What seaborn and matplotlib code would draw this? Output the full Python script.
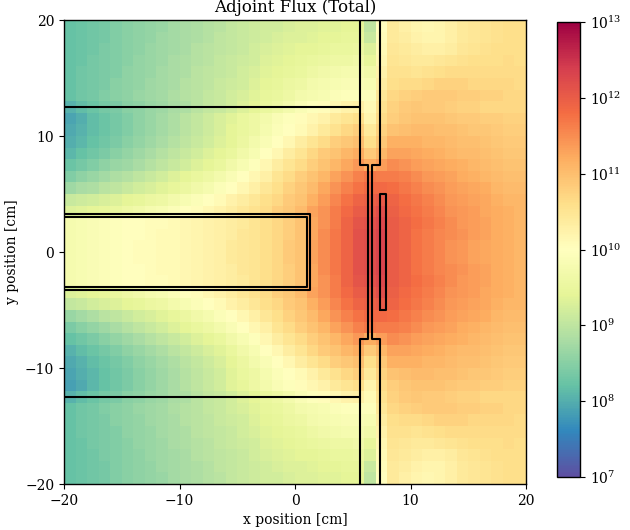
import numpy as np
import matplotlib
matplotlib.use("Agg")
import matplotlib.pyplot as plt
from matplotlib.colors import LogNorm
from matplotlib.transforms import Affine2D
import seaborn as sns

# log10 of the adjoint flux, one row per 1 cm band (y = 19.5 at top ... -19.5 at bottom),
# 40 columns from x = -19.5 to 19.5
log_flux = [
    [8.2, 8.25, 8.3, 8.35, 8.45, 8.5, 8.55, 8.6, 8.65, 8.75, 8.8, 8.85, 8.9, 8.95, 9.05, 9.1, 9.15, 9.2, 9.2, 9.25, 9.3, 9.3, 9.35, 9.35, 9.4, 9.4, 9.0, 10.0, 10.4, 10.3, 10.2, 10.15, 10.2, 10.3, 10.4, 10.45, 10.5, 10.55, 10.6, 10.6],
    [8.2, 8.25, 8.3, 8.35, 8.45, 8.5, 8.55, 8.6, 8.7, 8.75, 8.8, 8.85, 8.9, 9.0, 9.05, 9.1, 9.15, 9.2, 9.25, 9.3, 9.3, 9.35, 9.4, 9.4, 9.45, 9.45, 9.1, 10.05, 10.4, 10.35, 10.25, 10.2, 10.2, 10.3, 10.4, 10.45, 10.5, 10.55, 10.6, 10.6],
    [8.2, 8.25, 8.3, 8.4, 8.45, 8.5, 8.55, 8.65, 8.7, 8.75, 8.8, 8.9, 8.95, 9.0, 9.05, 9.1, 9.2, 9.25, 9.3, 9.35, 9.4, 9.4, 9.45, 9.5, 9.5, 9.55, 9.3, 10.1, 10.45, 10.4, 10.35, 10.3, 10.3, 10.35, 10.45, 10.5, 10.55, 10.6, 10.6, 10.6],
    [8.2, 8.25, 8.35, 8.4, 8.45, 8.5, 8.6, 8.65, 8.7, 8.8, 8.85, 8.9, 8.95, 9.05, 9.1, 9.15, 9.2, 9.3, 9.35, 9.4, 9.45, 9.5, 9.55, 9.6, 9.6, 9.65, 9.45, 10.15, 10.5, 10.45, 10.4, 10.4, 10.45, 10.5, 10.55, 10.6, 10.6, 10.6, 10.65, 10.6],
    [8.2, 8.3, 8.35, 8.4, 8.45, 8.55, 8.6, 8.65, 8.75, 8.8, 8.85, 8.95, 9.0, 9.05, 9.1, 9.2, 9.25, 9.35, 9.4, 9.45, 9.5, 9.6, 9.65, 9.7, 9.75, 9.75, 9.65, 10.25, 10.55, 10.55, 10.5, 10.55, 10.6, 10.65, 10.65, 10.65, 10.65, 10.65, 10.65, 10.65],
    [8.2, 8.3, 8.35, 8.4, 8.5, 8.55, 8.6, 8.7, 8.75, 8.8, 8.9, 8.95, 9.0, 9.1, 9.15, 9.2, 9.3, 9.4, 9.45, 9.55, 9.6, 9.7, 9.75, 9.8, 9.85, 9.85, 9.8, 10.35, 10.6, 10.65, 10.65, 10.7, 10.75, 10.75, 10.75, 10.7, 10.7, 10.7, 10.7, 10.65],
    [8.2, 8.3, 8.35, 8.45, 8.5, 8.55, 8.65, 8.7, 8.75, 8.85, 8.9, 8.95, 9.05, 9.1, 9.2, 9.25, 9.35, 9.45, 9.5, 9.6, 9.7, 9.75, 9.8, 9.9, 9.95, 9.95, 9.95, 10.45, 10.7, 10.75, 10.8, 10.85, 10.85, 10.85, 10.8, 10.8, 10.75, 10.75, 10.7, 10.7],
    [8.05, 8.15, 8.25, 8.35, 8.4, 8.5, 8.55, 8.65, 8.7, 8.8, 8.85, 8.95, 9.05, 9.1, 9.2, 9.3, 9.4, 9.5, 9.6, 9.7, 9.85, 9.95, 10.05, 10.15, 10.25, 10.3, 10.1, 10.55, 10.75, 10.85, 10.9, 10.85, 10.85, 10.8, 10.75, 10.75, 10.7, 10.7, 10.7, 10.7],
    [7.9, 8.0, 8.15, 8.25, 8.35, 8.45, 8.55, 8.65, 8.75, 8.85, 8.95, 9.05, 9.15, 9.25, 9.35, 9.5, 9.6, 9.7, 9.85, 9.95, 10.05, 10.15, 10.25, 10.4, 10.5, 10.6, 10.2, 10.65, 10.8, 10.9, 10.95, 10.95, 10.95, 10.9, 10.85, 10.85, 10.8, 10.8, 10.75, 10.75],
    [7.95, 8.05, 8.15, 8.25, 8.35, 8.45, 8.55, 8.65, 8.75, 8.85, 8.95, 9.05, 9.15, 9.25, 9.4, 9.5, 9.6, 9.75, 9.9, 10.0, 10.1, 10.25, 10.4, 10.55, 10.7, 10.8, 10.4, 10.75, 10.95, 11.0, 11.05, 11.05, 11.0, 11.0, 10.95, 10.9, 10.9, 10.85, 10.8, 10.8],
    [8.0, 8.1, 8.2, 8.3, 8.4, 8.5, 8.6, 8.7, 8.8, 8.9, 9.0, 9.1, 9.2, 9.3, 9.4, 9.55, 9.7, 9.85, 10.0, 10.15, 10.35, 10.5, 10.65, 10.8, 10.9, 11.0, 10.6, 10.9, 11.15, 11.15, 11.15, 11.1, 11.1, 11.05, 11.0, 11.0, 10.95, 10.9, 10.85, 10.85],
    [8.1, 8.2, 8.3, 8.4, 8.5, 8.6, 8.7, 8.8, 8.9, 9.0, 9.1, 9.2, 9.3, 9.4, 9.5, 9.65, 9.8, 10.0, 10.15, 10.35, 10.5, 10.7, 10.85, 10.95, 11.1, 11.2, 10.85, 11.1, 11.3, 11.3, 11.25, 11.2, 11.15, 11.1, 11.05, 11.05, 11.0, 10.95, 10.9, 10.9],
    [8.25, 8.35, 8.45, 8.55, 8.65, 8.7, 8.8, 8.9, 9.0, 9.1, 9.2, 9.3, 9.4, 9.5, 9.65, 9.8, 9.95, 10.15, 10.35, 10.5, 10.65, 10.8, 10.95, 11.1, 11.25, 11.4, 11.2, 11.35, 11.5, 11.45, 11.35, 11.3, 11.25, 11.2, 11.15, 11.1, 11.05, 11.0, 10.95, 10.95],
    [8.45, 8.55, 8.65, 8.75, 8.85, 8.9, 9.0, 9.1, 9.2, 9.3, 9.4, 9.5, 9.6, 9.7, 9.85, 10.0, 10.15, 10.3, 10.5, 10.65, 10.8, 10.95, 11.1, 11.3, 11.45, 11.6, 11.7, 11.65, 11.65, 11.6, 11.5, 11.4, 11.35, 11.3, 11.2, 11.15, 11.1, 11.05, 11.0, 11.0],
    [8.7, 8.8, 8.85, 8.95, 9.0, 9.1, 9.2, 9.25, 9.35, 9.45, 9.55, 9.65, 9.75, 9.9, 10.0, 10.15, 10.3, 10.45, 10.6, 10.75, 10.9, 11.05, 11.25, 11.45, 11.6, 11.75, 11.85, 11.85, 11.8, 11.7, 11.6, 11.5, 11.45, 11.35, 11.3, 11.25, 11.2, 11.1, 11.05, 11.05],
    [9.1, 9.15, 9.2, 9.25, 9.3, 9.4, 9.45, 9.55, 9.6, 9.7, 9.8, 9.9, 10.0, 10.1, 10.25, 10.35, 10.45, 10.6, 10.7, 10.85, 10.95, 11.15, 11.35, 11.55, 11.75, 11.9, 11.95, 12.05, 11.9, 11.8, 11.7, 11.6, 11.5, 11.4, 11.35, 11.3, 11.25, 11.15, 11.1, 11.1],
    [9.3, 9.35, 9.4, 9.45, 9.5, 9.6, 9.65, 9.75, 9.8, 9.9, 10.0, 10.05, 10.15, 10.25, 10.35, 10.45, 10.55, 10.65, 10.8, 10.9, 11.05, 11.3, 11.45, 11.65, 11.85, 12.0, 12.05, 12.2, 11.95, 11.85, 11.75, 11.65, 11.55, 11.45, 11.4, 11.35, 11.25, 11.2, 11.15, 11.1],
    [9.75, 9.8, 9.85, 9.9, 9.95, 10.0, 10.0, 10.05, 10.05, 10.1, 10.15, 10.2, 10.25, 10.3, 10.35, 10.4, 10.5, 10.6, 10.7, 10.8, 10.95, 11.25, 11.45, 11.65, 11.9, 12.1, 12.15, 12.25, 12.0, 11.9, 11.8, 11.7, 11.6, 11.5, 11.4, 11.35, 11.3, 11.2, 11.15, 11.1],
    [9.75, 9.8, 9.85, 9.9, 9.95, 10.0, 10.0, 10.05, 10.1, 10.1, 10.15, 10.2, 10.25, 10.3, 10.35, 10.45, 10.5, 10.6, 10.7, 10.8, 10.95, 11.25, 11.5, 11.7, 11.9, 12.15, 12.2, 12.3, 12.0, 11.9, 11.75, 11.65, 11.55, 11.5, 11.45, 11.35, 11.3, 11.2, 11.15, 11.1],
    [9.75, 9.8, 9.85, 9.9, 9.95, 10.0, 10.05, 10.05, 10.1, 10.1, 10.15, 10.2, 10.25, 10.3, 10.4, 10.45, 10.5, 10.6, 10.7, 10.85, 10.95, 11.3, 11.5, 11.7, 11.9, 12.15, 12.2, 12.3, 12.0, 11.9, 11.75, 11.65, 11.55, 11.45, 11.4, 11.3, 11.25, 11.2, 11.15, 11.1],
    [9.75, 9.8, 9.85, 9.9, 9.95, 10.0, 10.05, 10.05, 10.1, 10.1, 10.15, 10.2, 10.25, 10.3, 10.4, 10.45, 10.5, 10.6, 10.7, 10.85, 10.95, 11.3, 11.5, 11.7, 11.9, 12.15, 12.2, 12.3, 12.0, 11.9, 11.75, 11.65, 11.55, 11.45, 11.4, 11.3, 11.25, 11.2, 11.15, 11.1],
    [9.75, 9.8, 9.85, 9.9, 9.95, 10.0, 10.0, 10.05, 10.1, 10.1, 10.15, 10.2, 10.25, 10.3, 10.35, 10.45, 10.5, 10.6, 10.7, 10.8, 10.95, 11.25, 11.5, 11.7, 11.9, 12.15, 12.2, 12.3, 12.0, 11.9, 11.75, 11.65, 11.55, 11.5, 11.45, 11.35, 11.3, 11.2, 11.15, 11.1],
    [9.75, 9.8, 9.85, 9.9, 9.95, 10.0, 10.0, 10.05, 10.05, 10.1, 10.15, 10.2, 10.25, 10.3, 10.35, 10.4, 10.5, 10.6, 10.7, 10.8, 10.95, 11.25, 11.45, 11.65, 11.9, 12.1, 12.15, 12.25, 12.0, 11.9, 11.8, 11.7, 11.6, 11.5, 11.4, 11.35, 11.3, 11.2, 11.15, 11.1],
    [9.3, 9.35, 9.4, 9.45, 9.5, 9.6, 9.65, 9.75, 9.8, 9.9, 10.0, 10.05, 10.15, 10.25, 10.35, 10.45, 10.55, 10.65, 10.8, 10.9, 11.05, 11.3, 11.45, 11.65, 11.85, 12.0, 12.05, 12.2, 11.95, 11.85, 11.75, 11.65, 11.55, 11.45, 11.4, 11.35, 11.25, 11.2, 11.15, 11.1],
    [9.05, 9.1, 9.2, 9.25, 9.3, 9.4, 9.45, 9.55, 9.6, 9.7, 9.8, 9.9, 10.0, 10.1, 10.25, 10.35, 10.45, 10.6, 10.7, 10.85, 10.95, 11.15, 11.35, 11.55, 11.75, 11.9, 11.95, 12.05, 11.9, 11.8, 11.7, 11.6, 11.5, 11.4, 11.35, 11.3, 11.25, 11.15, 11.1, 11.1],
    [8.65, 8.75, 8.85, 8.95, 9.0, 9.1, 9.2, 9.25, 9.35, 9.45, 9.55, 9.65, 9.75, 9.9, 10.0, 10.15, 10.3, 10.45, 10.6, 10.75, 10.9, 11.05, 11.25, 11.45, 11.6, 11.75, 11.85, 11.85, 11.8, 11.7, 11.6, 11.5, 11.45, 11.35, 11.3, 11.25, 11.2, 11.1, 11.05, 11.05],
    [8.4, 8.5, 8.6, 8.7, 8.8, 8.9, 9.0, 9.1, 9.2, 9.3, 9.4, 9.5, 9.6, 9.7, 9.85, 10.0, 10.15, 10.3, 10.5, 10.65, 10.8, 10.95, 11.1, 11.3, 11.45, 11.6, 11.7, 11.65, 11.65, 11.6, 11.5, 11.4, 11.35, 11.3, 11.2, 11.15, 11.1, 11.05, 11.0, 11.0],
    [8.2, 8.3, 8.4, 8.5, 8.6, 8.7, 8.8, 8.9, 9.0, 9.1, 9.2, 9.3, 9.4, 9.5, 9.65, 9.8, 9.95, 10.15, 10.35, 10.5, 10.65, 10.8, 10.95, 11.1, 11.25, 11.4, 11.2, 11.35, 11.5, 11.45, 11.35, 11.3, 11.25, 11.2, 11.15, 11.1, 11.05, 11.0, 10.95, 10.95],
    [8.05, 8.15, 8.25, 8.35, 8.45, 8.55, 8.65, 8.75, 8.85, 8.95, 9.05, 9.15, 9.25, 9.35, 9.5, 9.65, 9.8, 10.0, 10.15, 10.35, 10.5, 10.7, 10.85, 10.95, 11.1, 11.2, 10.85, 11.1, 11.3, 11.3, 11.25, 11.2, 11.15, 11.1, 11.05, 11.05, 11.0, 10.95, 10.9, 10.9],
    [7.95, 8.05, 8.15, 8.25, 8.35, 8.45, 8.55, 8.65, 8.75, 8.85, 8.95, 9.05, 9.15, 9.25, 9.4, 9.55, 9.7, 9.85, 10.0, 10.15, 10.35, 10.5, 10.65, 10.8, 10.9, 11.0, 10.6, 10.9, 11.15, 11.15, 11.15, 11.1, 11.1, 11.05, 11.0, 11.0, 10.95, 10.9, 10.85, 10.85],
    [7.9, 8.0, 8.1, 8.2, 8.3, 8.4, 8.5, 8.6, 8.7, 8.8, 8.9, 9.0, 9.1, 9.2, 9.35, 9.5, 9.6, 9.75, 9.9, 10.0, 10.1, 10.25, 10.4, 10.55, 10.7, 10.8, 10.4, 10.75, 10.95, 11.0, 11.05, 11.05, 11.0, 11.0, 10.95, 10.9, 10.9, 10.85, 10.8, 10.8],
    [7.85, 7.95, 8.1, 8.2, 8.3, 8.4, 8.5, 8.6, 8.7, 8.8, 8.9, 9.0, 9.1, 9.2, 9.35, 9.45, 9.6, 9.7, 9.85, 9.95, 10.05, 10.15, 10.25, 10.4, 10.5, 10.6, 10.2, 10.65, 10.8, 10.9, 10.95, 10.95, 10.95, 10.9, 10.85, 10.85, 10.8, 10.8, 10.75, 10.75],
    [8.05, 8.15, 8.25, 8.35, 8.4, 8.5, 8.55, 8.65, 8.7, 8.8, 8.85, 8.95, 9.05, 9.1, 9.2, 9.3, 9.4, 9.5, 9.6, 9.7, 9.85, 9.95, 10.05, 10.15, 10.25, 10.3, 10.1, 10.55, 10.75, 10.85, 10.9, 10.85, 10.85, 10.8, 10.75, 10.75, 10.7, 10.7, 10.7, 10.7],
    [8.2, 8.3, 8.35, 8.45, 8.5, 8.55, 8.65, 8.7, 8.75, 8.85, 8.9, 8.95, 9.05, 9.1, 9.2, 9.25, 9.35, 9.45, 9.5, 9.6, 9.7, 9.75, 9.8, 9.9, 9.95, 9.95, 9.95, 10.45, 10.7, 10.75, 10.8, 10.85, 10.85, 10.85, 10.8, 10.8, 10.75, 10.75, 10.7, 10.7],
    [8.2, 8.3, 8.35, 8.4, 8.5, 8.55, 8.6, 8.7, 8.75, 8.8, 8.9, 8.95, 9.0, 9.1, 9.15, 9.2, 9.3, 9.4, 9.45, 9.55, 9.6, 9.7, 9.75, 9.8, 9.85, 9.85, 9.8, 10.35, 10.6, 10.65, 10.65, 10.7, 10.75, 10.75, 10.75, 10.7, 10.7, 10.7, 10.7, 10.65],
    [8.2, 8.3, 8.35, 8.4, 8.45, 8.55, 8.6, 8.65, 8.75, 8.8, 8.85, 8.95, 9.0, 9.05, 9.1, 9.2, 9.25, 9.35, 9.4, 9.45, 9.5, 9.6, 9.65, 9.7, 9.75, 9.75, 9.65, 10.25, 10.55, 10.55, 10.5, 10.55, 10.6, 10.65, 10.65, 10.65, 10.65, 10.65, 10.65, 10.65],
    [8.2, 8.25, 8.35, 8.4, 8.45, 8.5, 8.6, 8.65, 8.7, 8.8, 8.85, 8.9, 8.95, 9.05, 9.1, 9.15, 9.2, 9.3, 9.35, 9.4, 9.45, 9.5, 9.55, 9.6, 9.6, 9.65, 9.45, 10.15, 10.5, 10.45, 10.4, 10.4, 10.45, 10.5, 10.55, 10.6, 10.6, 10.6, 10.65, 10.6],
    [8.2, 8.25, 8.3, 8.4, 8.45, 8.5, 8.55, 8.65, 8.7, 8.75, 8.8, 8.9, 8.95, 9.0, 9.05, 9.1, 9.2, 9.25, 9.3, 9.35, 9.4, 9.4, 9.45, 9.5, 9.5, 9.55, 9.3, 10.1, 10.45, 10.4, 10.35, 10.3, 10.3, 10.35, 10.45, 10.5, 10.55, 10.6, 10.6, 10.6],
    [8.2, 8.25, 8.3, 8.35, 8.45, 8.5, 8.55, 8.6, 8.7, 8.75, 8.8, 8.85, 8.9, 9.0, 9.05, 9.1, 9.15, 9.2, 9.25, 9.3, 9.3, 9.35, 9.4, 9.4, 9.45, 9.45, 9.1, 10.05, 10.4, 10.35, 10.25, 10.2, 10.2, 10.3, 10.4, 10.45, 10.5, 10.55, 10.6, 10.6],
    [8.2, 8.25, 8.3, 8.35, 8.45, 8.5, 8.55, 8.6, 8.65, 8.75, 8.8, 8.85, 8.9, 8.95, 9.05, 9.1, 9.15, 9.2, 9.2, 9.25, 9.3, 9.3, 9.35, 9.35, 9.4, 9.4, 9.0, 10.0, 10.4, 10.3, 10.2, 10.15, 10.2, 10.3, 10.4, 10.45, 10.5, 10.55, 10.6, 10.6],
]

x_min, x_max = -20, 20
y_min, y_max = -20, 20
x_ticks = [-20, -10, 0, 10, 20]
y_ticks = [-20, -10, 0, 10, 20]
cbar_exponents = [7, 8, 9, 10, 11, 12, 13]

# geometry outlines in cm
shield_top = ([-20, 5.6], [12.5, 12.5])
shield_bottom = ([-20, 5.6], [-12.5, -12.5])
channel_left = ([5.6, 5.6, 6.35, 6.35, 5.6, 5.6], [20, 7.5, 7.5, -7.5, -7.5, -20])
channel_right = ([7.37, 7.37, 6.65, 6.65, 7.37, 7.37], [20, 7.5, 7.5, -7.5, -7.5, -20])
detector = ([7.37, 7.9, 7.9, 7.37, 7.37], [-5, -5, 5, 5, -5])
beam_outer = ([-20, 1.3, 1.3, -20], [3.3, 3.3, -3.3, -3.3])
beam_inner = ([-20, 1.0, 1.0, -20], [3.0, 3.0, -3.0, -3.0])

sns.set_style("ticks")
plt.rcParams["font.family"] = ["DejaVu Serif"]
plt.rcParams["mathtext.fontset"] = "dejavuserif"
plt.rcParams["font.size"] = 10
plt.rcParams["axes.edgecolor"] = "black"
plt.rcParams["xtick.color"] = "black"
plt.rcParams["ytick.color"] = "black"
plt.rcParams["axes.labelcolor"] = "black"
plt.rcParams["text.color"] = "black"

flux = 10.0 ** np.array(log_flux)

fig = plt.figure(figsize=(6.3, 5.3), dpi=100)
ax = fig.add_axes([64 / 630, 46 / 530, 462 / 630, 464 / 530])
cax = fig.add_axes([557 / 630, 53 / 530, 23 / 630, 455 / 530])

sns.heatmap(flux, ax=ax, cbar_ax=cax, cmap="Spectral_r",
            norm=LogNorm(vmin=1e7, vmax=1e13),
            xticklabels=False, yticklabels=False)

for s in ax.spines.values():
    s.set_visible(True)
    s.set_linewidth(1.0)
    s.set_color("black")

cb = ax.collections[0].colorbar
cb.set_ticks([10.0 ** e for e in cbar_exponents])
cb.set_ticklabels([r"$10^{%d}$" % e for e in cbar_exponents])
cb.minorticks_off()
cb.outline.set_linewidth(1.0)
cb.outline.set_edgecolor("black")
cb.ax.tick_params(labelsize=10, length=3.5, width=0.8)

# map cm coordinates onto heatmap cell coordinates
geo = Affine2D().scale(1, -1).translate(-x_min, y_max) + ax.transData
for xs, ys in [shield_top, shield_bottom, channel_left, channel_right,
               detector, beam_outer, beam_inner]:
    ax.plot(xs, ys, color="black", lw=1.5, transform=geo)

fmt = lambda v: str(v).replace("-", "\u2212")
ax.set_xticks([t - x_min for t in x_ticks])
ax.set_xticklabels([fmt(t) for t in x_ticks], rotation=0)
ax.set_yticks([y_max - t for t in y_ticks])
ax.set_yticklabels([fmt(t) for t in y_ticks], rotation=0)
ax.tick_params(direction="out", length=3.5, width=0.8, labelsize=10,
               bottom=True, left=True)
ax.set_xlim(0, x_max - x_min)
ax.set_ylim(y_max - y_min, 0)

ax.set_xlabel("x position [cm]", fontsize=10)
ax.set_ylabel("y position [cm]", fontsize=10)
ax.set_title("Adjoint Flux (Total)", fontsize=12)

fig.savefig("out.png", dpi=100)
